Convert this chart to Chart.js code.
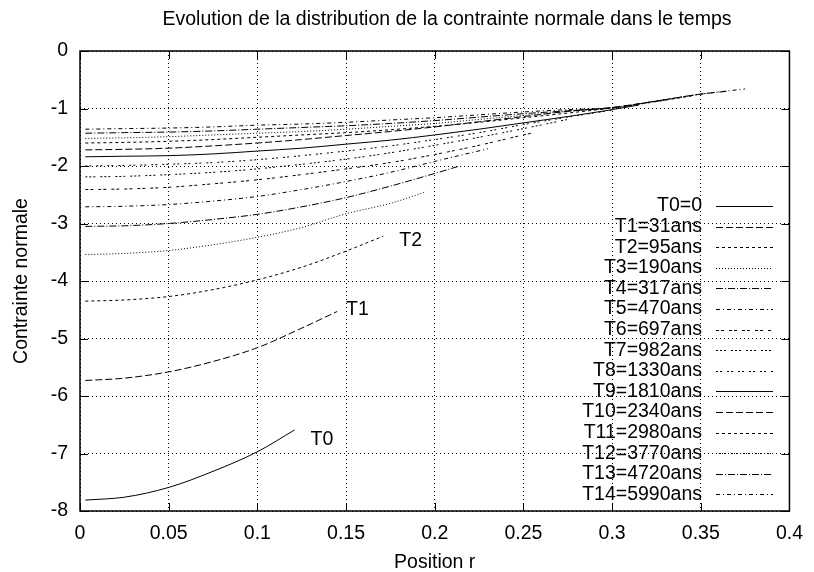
<!DOCTYPE html>
<html>
<head>
<meta charset="utf-8">
<script src="https://cdn.jsdelivr.net/npm/chart.js@4.4.1/dist/chart.umd.min.js"></script>
<style>
  html, body { margin: 0; padding: 0; background: #fff; }
  #wrap { width: 814px; height: 572px; }
</style>
</head>
<body>
<div id="wrap"><canvas id="chart" width="814" height="572"></canvas></div>
<script>
// Rayons communs (Position r) et valeurs
const rGrid = [0.003, 0.025, 0.05, 0.075, 0.1, 0.125, 0.15, 0.175, 0.2, 0.225, 0.25, 0.275, 0.3, 0.325, 0.35];

const seriesLabels = ['T0=0', 'T1=31ans', 'T2=95ans', 'T3=190ans', 'T4=317ans', 'T5=470ans',
  'T6=697ans', 'T7=982ans', 'T8=1330ans', 'T9=1810ans', 'T10=2340ans', 'T11=2980ans',
  'T12=3770ans', 'T13=4720ans', 'T14=5990ans'];

// contrainte aux points de rGrid (tant que r < rayon final)
const sT0  = [-7.81, -7.76, -7.59, -7.31, -6.97];
const sT1  = [-5.73, -5.69, -5.58, -5.40, -5.16, -4.82];
const sT2  = [-4.35, -4.33, -4.27, -4.15, -3.98, -3.76, -3.48];
const sT3  = [-3.54, -3.52, -3.47, -3.37, -3.24, -3.07, -2.83, -2.65];
const sT4  = [-3.05, -3.04, -3.00, -2.93, -2.84, -2.71, -2.55, -2.35, -2.13];
const sT5  = [-2.71, -2.70, -2.67, -2.61, -2.53, -2.41, -2.27, -2.11, -1.92];
const sT6  = [-2.41, -2.40, -2.37, -2.31, -2.24, -2.15, -2.05, -1.94, -1.80, -1.64, -1.46];
const sT7  = [-2.19, -2.18, -2.15, -2.11, -2.05, -1.97, -1.88, -1.77, -1.64, -1.50, -1.35];
const sT8  = [-2.00, -1.99, -1.97, -1.94, -1.89, -1.82, -1.74, -1.65, -1.54, -1.42, -1.28, -1.15];
const sT9  = [-1.84, -1.83, -1.82, -1.79, -1.74, -1.69, -1.62, -1.55, -1.46, -1.36, -1.25, -1.14, -1.02];
const sT10 = [-1.72, -1.71, -1.69, -1.65, -1.60, -1.54, -1.47, -1.40, -1.32, -1.23, -1.14, -1.05, -0.98];
const sT11 = [-1.60, -1.59, -1.57, -1.54, -1.50, -1.46, -1.42, -1.37, -1.31, -1.24, -1.16, -1.08, -0.99, -0.88];
const sT12 = [-1.52, -1.51, -1.49, -1.46, -1.43, -1.40, -1.36, -1.31, -1.26, -1.19, -1.12, -1.05, -0.99, -0.87, -0.75];
const sT13 = [-1.43, -1.42, -1.41, -1.39, -1.36, -1.33, -1.30, -1.26, -1.21, -1.15, -1.09, -1.04, -0.99, -0.87, -0.75];
const sT14 = [-1.36, -1.35, -1.34, -1.32, -1.29, -1.27, -1.24, -1.20, -1.16, -1.11, -1.06, -1.02, -0.99, -0.87, -0.75];

// dernier point de chaque courbe (rayon final, contrainte)
const rEnd = [0.121, 0.145, 0.171, 0.194, 0.213, 0.230, 0.256, 0.275, 0.300, 0.315, 0.330, 0.345, 0.355, 0.365, 0.375];
const sEnd = [-6.59, -4.53, -3.22, -2.46, -2.01, -1.70, -1.42, -1.19, -1.03, -0.94, -0.85, -0.78, -0.73, -0.70, -0.66];

const xTickLabels = ['0', '0.05', '0.1', '0.15', '0.2', '0.25', '0.3', '0.35', '0.4'];
const yTickLabels = ['-8', '-7', '-6', '-5', '-4', '-3', '-2', '-1', '0'];

const chartTitle = 'Evolution de la distribution de la contrainte normale dans le temps';

// étiquettes T0, T1, T2 dans le graphe
const curveNotes = [
  { text: 'T0', r: 0.130, s: -6.75 },
  { text: 'T1', r: 0.150, s: -4.50 },
  { text: 'T2', r: 0.180, s: -3.29 }
];

const allS = [sT0, sT1, sT2, sT3, sT4, sT5, sT6, sT7, sT8, sT9, sT10, sT11, sT12, sT13, sT14];

// styles de trait type gnuplot (cycle de 9)
const dashes = [[], [7, 3], [3, 3], [1, 2], [7, 2, 1, 2], [4, 3, 1, 3], [3, 2, 3, 5], [2, 2, 2, 2, 2, 5], [2, 2, 2, 5]];

const FONT = "'Liberation Sans', Arial, Helvetica, sans-serif";
const FS = 19.5;

const datasets = allS.map((vals, i) => {
  const pts = vals.map((v, j) => ({ x: rGrid[j], y: v }));
  pts.push({ x: rEnd[i], y: sEnd[i] });
  return {
    label: seriesLabels[i],
    data: pts,
    showLine: true,
    borderColor: '#000',
    borderWidth: 1,
    borderDash: dashes[i % 9],
    pointRadius: 0,
    cubicInterpolationMode: 'monotone',
    fill: false
  };
});

const gnuplotDecor = {
  id: 'gnuplotDecor',
  afterDatasetsDraw(chart) {
    const { ctx, chartArea: a, scales: { x, y } } = chart;
    ctx.save();
    ctx.setLineDash([]);
    ctx.strokeStyle = '#000';
    ctx.lineWidth = 1;
    // ticks vers l'intérieur, sur les 4 côtés
    ctx.beginPath();
    x.ticks.forEach(t => {
      const px = Math.round(x.getPixelForValue(t.value)) + 0.5;
      ctx.moveTo(px, a.bottom); ctx.lineTo(px, a.bottom - 8);
      ctx.moveTo(px, a.top); ctx.lineTo(px, a.top + 8);
    });
    y.ticks.forEach(t => {
      const py = Math.round(y.getPixelForValue(t.value)) + 0.5;
      ctx.moveTo(a.left, py); ctx.lineTo(a.left + 8, py);
      ctx.moveTo(a.right, py); ctx.lineTo(a.right - 8, py);
    });
    ctx.stroke();
    // cadre
    ctx.lineWidth = 1.5;
    ctx.strokeRect(a.left, a.top, a.right - a.left, a.bottom - a.top);

    ctx.fillStyle = '#000';
    ctx.font = FS + 'px ' + FONT;
    ctx.textBaseline = 'middle';
    ctx.textAlign = 'center';
    ctx.fillText(chartTitle, 447, 20);

    ctx.textAlign = 'left';
    curveNotes.forEach(n => {
      ctx.fillText(n.text, x.getPixelForValue(n.r), y.getPixelForValue(n.s));
    });

    // légende à la gnuplot : texte aligné à droite, échantillon à droite
    const textRight = 702, lineL = 716, lineR = 773, top = 206, step = 20.6;
    ctx.textAlign = 'right';
    chart.data.datasets.forEach((ds, i) => {
      const yy = top + i * step;
      ctx.fillText(ds.label, textRight, yy);
      ctx.setLineDash(ds.borderDash);
      ctx.lineWidth = 1;
      ctx.beginPath();
      ctx.moveTo(lineL, Math.round(yy) + 0.5);
      ctx.lineTo(lineR, Math.round(yy) + 0.5);
      ctx.stroke();
    });
    ctx.restore();
  }
};

new Chart(document.getElementById('chart'), {
  type: 'scatter',
  data: { datasets },
  options: {
    responsive: false,
    animation: false,
    layout: { padding: { left: 0, right: 18, top: 51, bottom: 0 } },
    plugins: {
      legend: { display: false },
      tooltip: { enabled: false },
      title: { display: false }
    },
    scales: {
      x: {
        type: 'linear',
        min: 0, max: 0.4,
        afterBuildTicks: s => { s.ticks = xTickLabels.map(v => ({ value: parseFloat(v) })); },
        afterFit: s => { s.height = 61; },
        ticks: {
          color: '#000',
          font: { family: FONT, size: FS },
          padding: 11,
          maxRotation: 0,
          callback: (v, i) => xTickLabels[i]
        },
        grid: { color: '#000', lineWidth: 1, drawTicks: false },
        border: { display: false, dash: [1, 3] },
        title: {
          display: true, text: 'Position r', color: '#000',
          font: { family: FONT, size: FS }, padding: { top: 4, bottom: -2 }
        }
      },
      y: {
        type: 'linear',
        min: -8, max: 0,
        afterBuildTicks: s => { s.ticks = yTickLabels.map(v => ({ value: parseFloat(v) })); },
        afterFit: s => { s.width = 80; },
        ticks: {
          color: '#000',
          font: { family: FONT, size: FS },
          padding: 12,
          callback: (v, i) => yTickLabels[i]
        },
        grid: { color: '#000', lineWidth: 1, drawTicks: false },
        border: { display: false, dash: [1, 3] },
        title: {
          display: true, text: 'Contrainte normale', color: '#000',
          font: { family: FONT, size: FS }, padding: { top: 10, bottom: 0 }
        }
      }
    }
  },
  plugins: [gnuplotDecor]
});
</script>
</body>
</html>
